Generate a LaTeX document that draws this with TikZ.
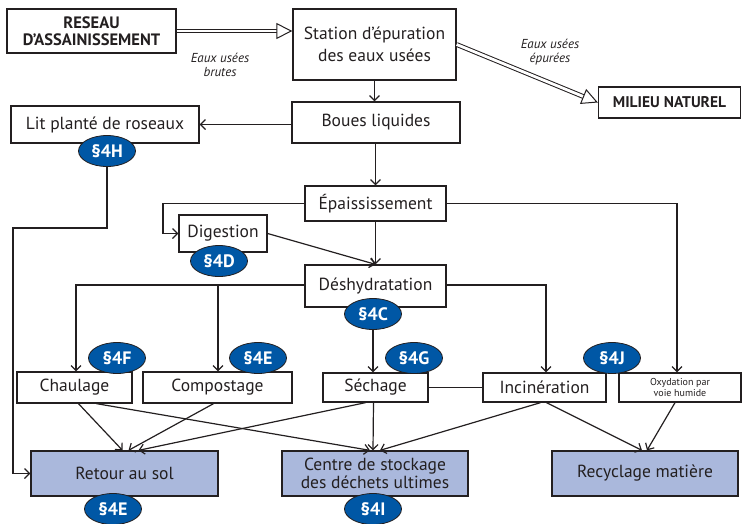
\documentclass[tikz,border=0pt]{standalone}
\usepackage{fontspec}
\setmainfont{PT Sans}
\usetikzlibrary{arrows.meta,calc,shapes.geometric}
\definecolor{ink}{HTML}{231F20}
\definecolor{badge}{HTML}{0057A5}
\definecolor{final}{HTML}{AAB8DC}
\tikzset{
  box/.style={draw=ink,line width=1.3pt,rectangle,inner sep=0pt,text=ink,font=\fontsize{17.5}{17.5}\selectfont,align=center},
  finalbox/.style={box,fill=final},
  badgenode/.style={ellipse,draw=ink,line width=0.8pt,fill=badge,minimum width=57pt,minimum height=31pt,inner sep=0pt,text=white,font=\bfseries\fontsize{18}{18}\selectfont},
  conn/.style={draw=ink,line width=1.2pt,-{Straight Barb[length=5pt,width=10pt]}},
  plain/.style={draw=ink,line width=1.2pt},
  dblline/.style={draw=ink,line width=1pt,double=white,double distance=2.8pt,shorten >=13pt},
  dbltip/.style={draw=ink,line width=1pt,-{Triangle[length=16pt,width=16pt,fill=white]}},
  lbl/.style={text=ink,font=\itshape\fontsize{13}{14}\selectfont,align=center}
}
\begin{document}
\begin{tikzpicture}[x=1pt,y=-1pt]
\useasboundingbox (0,0) rectangle (742,523);
% nodes
\node[box,minimum width=169pt,minimum height=44pt,font=\bfseries\fontsize{16.5}{17}\selectfont] (reseau) at (91.5,31) {RESEAU\\D'ASSAINISSEMENT};
\node[box,minimum width=163pt,minimum height=71pt,font=\fontsize{17.5}{22}\selectfont] (station) at (374.5,44.5) {Station d'épuration\\des eaux usées};
\node[box,minimum width=142pt,minimum height=31pt,font=\bfseries\fontsize{15.5}{15}\selectfont] (milieu) at (669.5,102.5) {MILIEU NATUREL};
\node[box,minimum width=168pt,minimum height=41pt] (boues) at (376,122.5) {Boues liquides};
\node[box,minimum width=188pt,minimum height=37pt] (lit) at (105,124.5) {Lit planté de roseaux};
\node[box,minimum width=141pt,minimum height=35pt] (epais) at (375.5,203.5) {Épaississement};
\node[box,minimum width=88pt,minimum height=37pt] (digestion) at (223,233.5) {Digestion};
\node[box,minimum width=141pt,minimum height=42pt] (deshy) at (375.5,286) {Déshydratation};
\node[box,minimum width=115pt,minimum height=31pt] (chaul) at (74.5,387.5) {Chaulage};
\node[box,minimum width=149pt,minimum height=31pt] (compost) at (217.5,387.5) {Compostage};
\node[box,minimum width=105pt,minimum height=29pt] (sechage) at (375.5,387.5) {Séchage};
\node[box,minimum width=123pt,minimum height=29pt] (incin) at (544.5,387.5) {Incinération};
\node[box,minimum width=122pt,minimum height=29pt,font=\fontsize{10}{11}\selectfont] (oxyd) at (680,387.5) {Oxydation par\\voie humide};
\node[finalbox,minimum width=187pt,minimum height=45pt] (retour) at (124.5,473.5) {Retour au sol};
\node[finalbox,minimum width=186pt,minimum height=45pt,font=\fontsize{17.5}{15}\selectfont] (centre) at (375,473.5) {Centre de stockage\\des déchets ultimes};
\node[finalbox,minimum width=186pt,minimum height=45pt] (recyc) at (645,473.5) {Recyclage matière};
% labels
\node[lbl] (lbrutes) at (220,65) {Eaux usées\\brutes};
\node[lbl] (lepurees) at (550,52) {Eaux usées\\épurées};
% coordinates
\coordinate (dturn) at (163,204);
\coordinate (hturn) at (13,228);
\coordinate (a1) at (reseau.east -| station.west);
% connectors
\draw[dblline] (reseau.east) -- (a1);
\draw[dbltip] ($(a1)+(-2,0)$) -- (a1);
\draw[dblline] (station.east) -- (milieu.west);
\draw[dbltip] ($(milieu.west)!2pt!(station.east)$) -- (milieu.west);
\draw[conn] (station.south) -- (station.south |- boues.north);
\draw[conn] (lit.east -| boues.west) -- (lit.east);
\draw[conn] (boues.south -| epais.north) -- (epais.north);
\draw[conn] (epais.west) -- (epais.west -| dturn) |- (digestion.west);
\draw[conn] (epais.south) -- (deshy.north);
\draw[conn] (digestion.east) -- (deshy.north);
\draw[conn] (epais.east) -| ($(oxyd.north)+(-3,0)$);
\draw[conn] ($(deshy.east)+(0,-1)$) -| ($(incin.north)+(1.5,0)$);
\draw[conn] ($(deshy.west)+(0,-1)$) -| ($(chaul.north)+(1.5,0)$);
\draw[conn] ($(compost.north |- deshy.west)+(0.5,-1)$) -- ($(compost.north)+(0.5,0)$);
\draw[plain] (sechage.east) -- (incin.west);
\draw[conn] ($(chaul.south)+(4,0)$) -- ($(retour.north)+(-2,0)$);
\draw[conn] ($(chaul.south)+(22,0)$) -- ($(centre.north)+(-5,0)$);
\draw[conn] ($(compost.south)+(-4,0)$) -- ($(retour.north)+(4,0)$);
\draw[conn] ($(sechage.south)+(-10,0)$) -- ($(retour.north)+(14,0)$);
\draw[conn] ($(sechage.south)+(-2,0)$) -- ($(centre.north)+(-2,0)$);
\draw[conn] ($(incin.south)+(-4,0)$) -- ($(centre.north)+(5,0)$);
\draw[conn] ($(incin.south)+(2,0)$) -- ($(recyc.north)+(-3,0)$);
\draw[conn] ($(oxyd.south)+(-5,0)$) -- ($(recyc.north)+(2,0)$);
% badges
\node[badgenode] (s4H) at (107,151) {§4H};
\node[badgenode] (s4D) at (219,261) {§4D};
\node[badgenode] (s4C) at (373,314) {§4C};
\node[badgenode] (s4G) at (414,358) {§4G};
\node[badgenode] (s4F) at (117,358) {§4F};
\node[badgenode] (s4E) at (258,358) {§4E};
\node[badgenode] (s4J) at (612,358) {§4J};
\node[badgenode] (s4Eb) at (113,509) {§4E};
\node[badgenode] (s4I) at (373,509) {§4I};
\draw[conn] (s4C.south) -- (s4C.south |- sechage.north);
\draw[conn] (s4H.south) |- (hturn) |- (retour.west);
\end{tikzpicture}
\end{document}
